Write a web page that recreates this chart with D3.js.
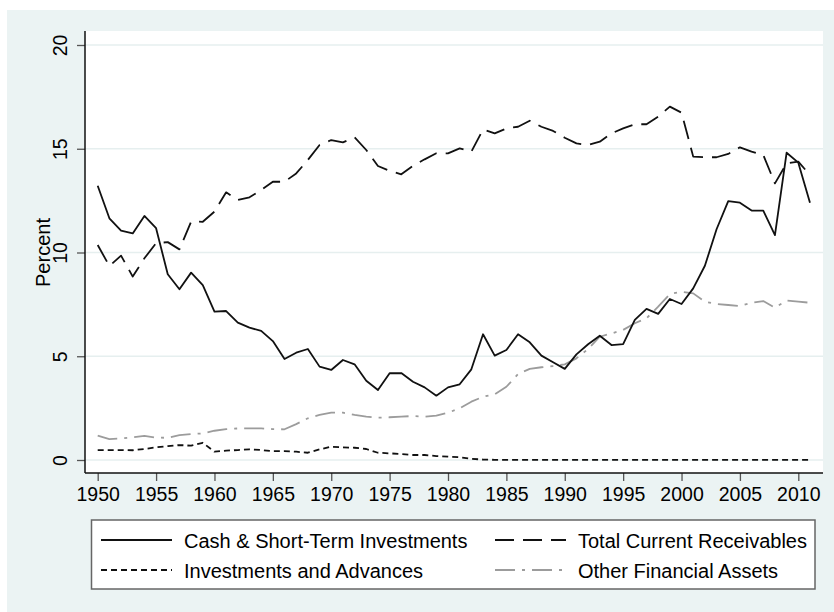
<!DOCTYPE html>
<html>
<head>
<meta charset="utf-8">
<script src="https://cdn.jsdelivr.net/npm/d3@7"></script>
<style>
  body { margin: 0; background: #fff; }
  text { font-family: "Liberation Sans", Arial, sans-serif; fill: #000; }
</style>
</head>
<body>
<div id="chart"></div>
<script>
// years 1950..2011
const years = d3.range(1950, 2012);

const cash = [13.22, 11.65, 11.05, 10.92, 11.76, 11.17, 8.95, 8.23, 9.03, 8.43,
  7.15, 7.18, 6.62, 6.38, 6.22, 5.73, 4.87, 5.17, 5.35, 4.50,
  4.34, 4.82, 4.61, 3.82, 3.37, 4.18, 4.19, 3.77, 3.50, 3.10,
  3.50, 3.65, 4.37, 6.06, 5.03, 5.30, 6.06, 5.67, 5.03, 4.71,
  4.39, 5.09, 5.58, 5.99, 5.54, 5.58, 6.75, 7.28, 7.04, 7.76,
  7.52, 8.27, 9.36, 11.12, 12.48, 12.40, 12.02, 12.02, 10.84, 14.81,
  14.33, 12.40];

const receivables = [10.36, 9.35, 9.85, 8.84, 9.72, 10.45, 10.50, 10.15, 11.49, 11.48,
  11.97, 12.90, 12.53, 12.66, 13.01, 13.41, 13.41, 13.81, 14.46, 15.18,
  15.42, 15.31, 15.55, 14.94, 14.17, 13.93, 13.77, 14.18, 14.49, 14.78,
  14.78, 15.02, 14.86, 15.93, 15.74, 15.98, 16.06, 16.35, 16.06, 15.86,
  15.53, 15.26, 15.18, 15.34, 15.74, 15.98, 16.18, 16.18, 16.55, 17.03,
  16.74, 14.62, 14.59, 14.59, 14.75, 15.07, 14.86, 14.70, 13.33, 14.30,
  14.38, 13.73];

const investments = [0.48, 0.48, 0.48, 0.47, 0.53, 0.61, 0.67, 0.72, 0.69, 0.83,
  0.40, 0.45, 0.48, 0.51, 0.48, 0.43, 0.43, 0.40, 0.35, 0.51,
  0.64, 0.61, 0.59, 0.53, 0.35, 0.32, 0.29, 0.24, 0.24, 0.19,
  0.16, 0.13, 0.06, 0.02, 0.01, 0.01, 0.01, 0.01, 0.01, 0.01,
  0.01, 0.01, 0.01, 0.01, 0.01, 0.01, 0.01, 0.01, 0.01, 0.01,
  0.01, 0.01, 0.01, 0.01, 0.01, 0.01, 0.01, 0.01, 0.01, 0.01,
  0.01, 0.01];

const otherFin = [1.17, 1.01, 1.04, 1.09, 1.16, 1.08, 1.07, 1.20, 1.25, 1.28,
  1.41, 1.49, 1.52, 1.52, 1.52, 1.49, 1.48, 1.73, 2.01, 2.17,
  2.28, 2.28, 2.17, 2.09, 2.04, 2.06, 2.09, 2.12, 2.09, 2.14,
  2.28, 2.49, 2.81, 3.05, 3.17, 3.53, 4.14, 4.39, 4.47, 4.53,
  4.61, 4.90, 5.35, 5.94, 6.10, 6.27, 6.59, 6.83, 7.39, 8.00,
  8.11, 8.03, 7.63, 7.52, 7.47, 7.42, 7.58, 7.66, 7.34, 7.68,
  7.63, 7.58];

const yTicks = [0, 5, 10, 15, 20];
const xTicks = d3.range(1950, 2011, 5);

const series = [
  { name: "Cash & Short-Term Investments", values: cash, color: "#111", dash: null, col: 0, row: 0 },
  { name: "Total Current Receivables", values: receivables, color: "#111", dash: "19,9", col: 1, row: 0 },
  { name: "Investments and Advances", values: investments, color: "#111", dash: "6,4", col: 0, row: 1 },
  { name: "Other Financial Assets", values: otherFin, color: "#9c9c9c", dash: "20,7,3,7", col: 1, row: 1 }
];

const width = 834, height = 612;
const plot = { left: 85, right: 823, top: 31, bottom: 473 };

const svg = d3.select("#chart").append("svg")
  .attr("width", width)
  .attr("height", height);

// graph region background
svg.append("rect")
  .attr("x", 7).attr("y", 10)
  .attr("width", width - 7).attr("height", height - 10)
  .attr("fill", "#ebf3f3");

// plot region
svg.append("rect")
  .attr("x", plot.left).attr("y", plot.top)
  .attr("width", plot.right - plot.left).attr("height", plot.bottom - plot.top)
  .attr("fill", "#fff");

const x = d3.scaleLinear().domain([1950, 2010]).range([97.7, 798.3]);
const y = d3.scaleLinear().domain([0, 20]).range([460, 45]);

// gridlines
svg.append("g").selectAll("line")
  .data(yTicks)
  .enter().append("line")
  .attr("x1", plot.left).attr("x2", plot.right)
  .attr("y1", d => y(d)).attr("y2", d => y(d))
  .attr("stroke", "#e6efef")
  .attr("stroke-width", 1.5);

// y axis
const yAxis = svg.append("g")
  .attr("transform", `translate(${plot.left},0)`)
  .call(d3.axisLeft(y).tickValues(yTicks).tickSize(8).tickFormat(d3.format("d")));
yAxis.select(".domain").remove();
yAxis.selectAll(".tick line").attr("stroke", "#555").attr("stroke-width", 1.3);
yAxis.selectAll(".tick text")
  .attr("x", null).attr("dy", null)
  .attr("transform", "translate(-18,0) rotate(-90)")
  .attr("text-anchor", "middle")
  .style("font-size", "19.5px");

svg.append("line")
  .attr("x1", plot.left).attr("x2", plot.left)
  .attr("y1", plot.top).attr("y2", plot.bottom)
  .attr("stroke", "#111").attr("stroke-width", 1.5);

// x axis
const xAxis = svg.append("g")
  .attr("transform", `translate(0,${plot.bottom})`)
  .call(d3.axisBottom(x).tickValues(xTicks).tickSize(8).tickFormat(d3.format("d")));
xAxis.select(".domain").remove();
xAxis.selectAll(".tick line").attr("stroke", "#555").attr("stroke-width", 1.3);
xAxis.selectAll(".tick text")
  .attr("y", 27.5).attr("dy", null)
  .style("font-size", "19.5px");

svg.append("line")
  .attr("x1", plot.left).attr("x2", plot.right)
  .attr("y1", plot.bottom).attr("y2", plot.bottom)
  .attr("stroke", "#111").attr("stroke-width", 1.5);

// y title
svg.append("text")
  .attr("transform", `translate(50,${(y(0) + y(20)) / 2}) rotate(-90)`)
  .attr("text-anchor", "middle")
  .style("font-size", "20px")
  .text("Percent");

// lines
const line = d3.line()
  .x((d, i) => x(years[i]))
  .y(d => y(d));

svg.append("g").selectAll("path")
  .data(series.slice().reverse())
  .enter().append("path")
  .attr("d", d => line(d.values))
  .attr("fill", "none")
  .attr("stroke", d => d.color)
  .attr("stroke-width", 1.8)
  .attr("stroke-linejoin", "round")
  .attr("stroke-dasharray", d => d.dash);

// legend
svg.append("rect")
  .attr("x", 91.5).attr("y", 520)
  .attr("width", 815 - 91.5).attr("height", 69)
  .attr("fill", "#fff")
  .attr("stroke", "#666")
  .attr("stroke-width", 1.5);

const colX = [101, 495];
const rowY = [540, 570];
const leg = svg.append("g").selectAll("g")
  .data(series)
  .enter().append("g")
  .attr("transform", d => `translate(${colX[d.col]},${rowY[d.row]})`);

leg.append("line")
  .attr("x1", 0).attr("x2", 71)
  .attr("y1", 0).attr("y2", 0)
  .attr("stroke", d => d.color)
  .attr("stroke-width", 1.8)
  .attr("stroke-dasharray", d => d.dash);

leg.append("text")
  .attr("x", 83)
  .attr("y", 7.5)
  .style("font-size", "20px")
  .text(d => d.name);
</script>
</body>
</html>
